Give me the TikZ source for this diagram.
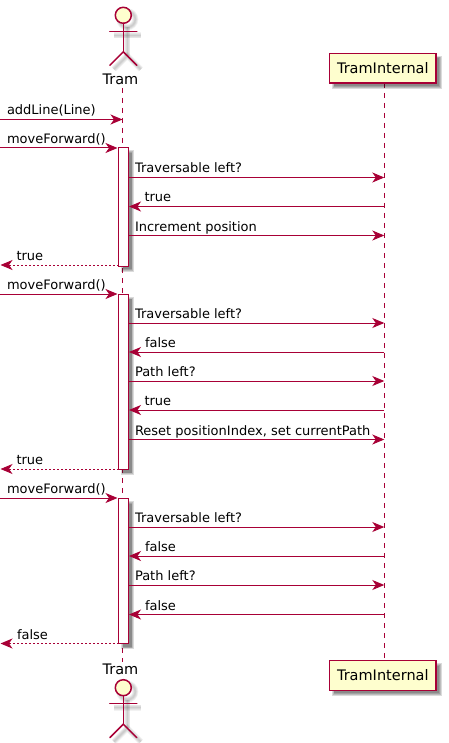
\documentclass[tikz,border=0pt]{standalone}
\usepackage{fontspec}
\setmainfont{DejaVu Sans}
\usetikzlibrary{arrows.meta}
\definecolor{puml}{HTML}{A80036}
\definecolor{pfill}{HTML}{FEFECE}
\tikzset{
  x=1pt,y=-1pt,
  every node/.style={inner sep=0pt,outer sep=0pt,font=\fontsize{13}{15}\selectfont},
  big/.style={font=\fontsize{14.5}{16}\selectfont},
  msg/.style={draw=puml,line width=1pt,-{Stealth[length=12pt,width=10pt,inset=3.5pt]}},
  ret/.style={msg,dash pattern=on 2pt off 2pt},
  lbl/.style={anchor=base west},
  life/.style={draw=puml,line width=1pt,dash pattern=on 5pt off 5pt},
  bar/.style={rectangle,draw=puml,fill=white,line width=1pt,minimum width=10pt},
  partbox/.style={rectangle,draw=puml,fill=pfill,line width=1.5pt,minimum width=106.5pt,minimum height=29.7pt,big},
  stick/.style={draw=puml,line width=1.5pt,line cap=round},
}
% soft shadow of a rectangle: centre x, y, width, height
\newcommand{\softbox}[4]{%
  \foreach \g in {0,0.8,1.6,2.4}{%
    \fill[black,opacity=0.14] (#1+4-#3/2-1.5+\g,#2+4-#4/2-1.5+\g) rectangle (#1+4+#3/2+1.5-\g,#2+4+#4/2+1.5-\g);}}
% actor: name, centre x, head y
\newcommand{\stickman}[3]{%
  \foreach \w in {6,4.5,3,1.5}{%
    \begin{scope}[shift={(#2+4,#3+4)},draw=black,opacity=0.05,line width=\w pt]
      \draw (0,8) -- (0,36.5);
      \draw (-13.5,16) -- (13.5,16);
      \draw (-13.5,50) -- (0,36.5) -- (13.5,50);
      \draw (0,0) circle (8);
    \end{scope}}
  \node[circle,draw=puml,fill=pfill,line width=1.5pt,minimum size=16pt] (#1h) at (#2,#3) {};
  \coordinate (#1n) at (#2,#3+8);
  \coordinate (#1w) at (#2,#3+36.5);
  \coordinate (#1al) at (#2-13.5,#3+16);
  \coordinate (#1ar) at (#2+13.5,#3+16);
  \coordinate (#1fl) at (#2-13.5,#3+50);
  \coordinate (#1fr) at (#2+13.5,#3+50);
  \draw[stick] (#1n) -- (#1w);
  \draw[stick] (#1al) -- (#1ar);
  \draw[stick] (#1fl) -- (#1w) -- (#1fr);
}
% message: id, x from, x to, y, label x, label, style
\newcommand{\seqmsg}[7]{%
  \coordinate (s#1) at (#2,#4);
  \coordinate (e#1) at (#3,#4);
  \draw[#7] (s#1) -- (e#1);
  \node[lbl] (t#1) at (#5,#4-4.5) {#6};
}
\begin{document}
\begin{tikzpicture}
\useasboundingbox (0,0) rectangle (449,743);
\fill[white] (0,0) rectangle (449,743);
% lifelines
\coordinate (ltop) at (122.5,88);
\coordinate (lbot) at (122.5,662);
\coordinate (rtop) at (384.3,83);
\coordinate (rbot) at (384.3,660);
\draw[life] (ltop) -- (lbot);
\draw[life] (rtop) -- (rbot);
% actors
\stickman{a}{123.3}{15.3}
\stickman{b}{123.3}{687.7}
\node[anchor=base,big] (tramt) at (120.5,85) {Tram};
\node[anchor=base,big] (tramb) at (120.5,674) {Tram};
% participants
\softbox{382.8}{68.2}{106.5}{29.7}
\softbox{382.8}{675.5}{106.5}{29.7}
\node[partbox] (pt) at (382.8,68.2) {TramInternal};
\node[partbox] (pb) at (382.8,675.5) {TramInternal};
% activations
\softbox{123.5}{207}{10}{118}
\softbox{123.5}{382}{10}{175}
\softbox{123.5}{571.2}{10}{145}
\node[bar,minimum height=118pt] (b1) at (123.5,207) {};
\node[bar,minimum height=175pt] (b2) at (123.5,382) {};
\node[bar,minimum height=145pt] (b3) at (123.5,571.2) {};
% messages
\seqmsg{1}{0}{122.5}{119.5}{7}{addLine(Line)}{msg}
\seqmsg{2}{0}{117.5}{148}{7}{moveForward()}{msg}
\seqmsg{3}{128.5}{384.3}{177.5}{135}{Traversable left?}{msg}
\seqmsg{4}{384.3}{129}{206.5}{144.5}{true}{msg}
\seqmsg{5}{128.5}{384.3}{235.5}{135}{Increment position}{msg}
\seqmsg{6}{118.5}{0.5}{265}{16.5}{true}{ret}
\seqmsg{7}{0}{117.5}{294}{7}{moveForward()}{msg}
\seqmsg{8}{128.5}{384.3}{323}{135}{Traversable left?}{msg}
\seqmsg{9}{384.3}{129}{352}{145}{false}{msg}
\seqmsg{10}{128.5}{384.3}{381}{135}{Path left?}{msg}
\seqmsg{11}{384.3}{129}{410}{144.5}{true}{msg}
\seqmsg{12}{128.5}{384.3}{439.5}{135}{Reset positionIndex, set currentPath}{msg}
\seqmsg{13}{118.5}{0.5}{469}{16.5}{true}{ret}
\seqmsg{14}{0}{117.5}{498}{7}{moveForward()}{msg}
\seqmsg{15}{128.5}{384.3}{527}{135}{Traversable left?}{msg}
\seqmsg{16}{384.3}{129}{556}{145}{false}{msg}
\seqmsg{17}{128.5}{384.3}{585}{135}{Path left?}{msg}
\seqmsg{18}{384.3}{129}{614.5}{145}{false}{msg}
\seqmsg{19}{118.5}{0.5}{643.5}{17}{false}{ret}
\end{tikzpicture}
\end{document}
